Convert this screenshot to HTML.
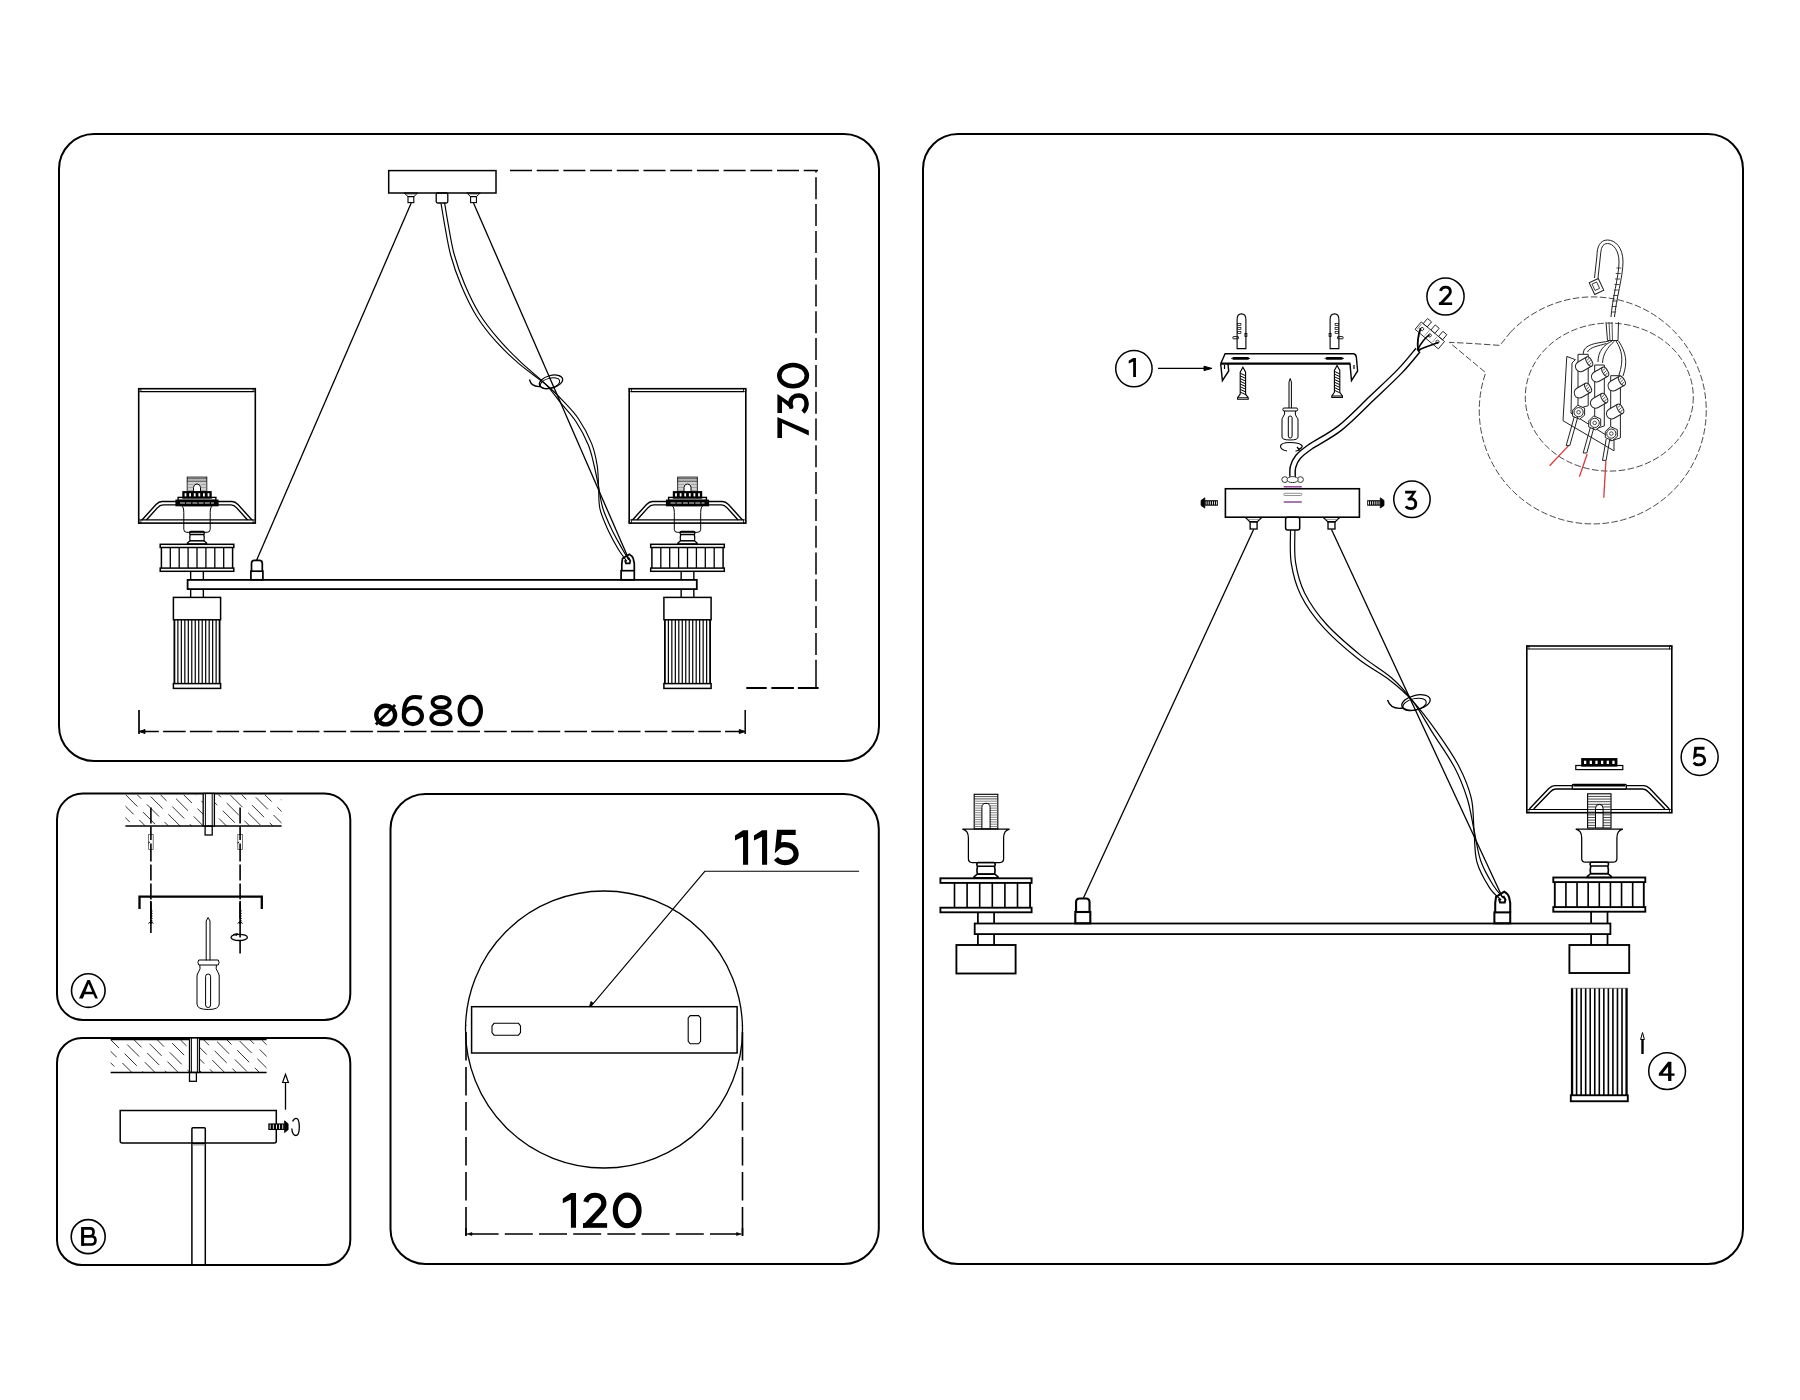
<!DOCTYPE html>
<html><head><meta charset="utf-8"><style>
html,body{margin:0;padding:0;background:#fff;width:1800px;height:1400px;overflow:hidden}
svg{display:block}
text{font-family:"Liberation Sans",sans-serif}
</style></head><body>
<svg width="1800" height="1400" viewBox="0 0 1800 1400" fill="none" stroke="#000" font-family="Liberation Sans, sans-serif">
<rect x="0" y="0" width="1800" height="1400" fill="#fff" stroke="none"/>
<rect x="59" y="134" width="820" height="627" rx="35" stroke-width="2.0" />
<rect x="57" y="793.5" width="293.3" height="226.5" rx="26" stroke-width="2.0" />
<rect x="57" y="1038" width="293.3" height="227" rx="25" stroke-width="2.0" />
<rect x="390.5" y="794" width="488.3" height="470" rx="35" stroke-width="2.0" />
<rect x="923" y="134" width="820" height="1130" rx="35" stroke-width="2.0" />
<rect x="388.7" y="170.6" width="107.3" height="22.4" rx="0" stroke-width="1.5" />
<path d="M404.2,193 H417.6 L413.9,196.6 H407.9 Z" stroke-width="1.0" />
<line x1="405.9" y1="194.6" x2="415.9" y2="194.6" stroke-width="0.6" stroke="#777"/>
<rect x="408" y="196.6" width="5.8" height="6" rx="0" stroke-width="1.1" />
<rect x="436.2" y="193" width="11.6" height="10" rx="1.5" stroke-width="1.3" />
<path d="M466.8,193 H480.2 L476.5,196.6 H470.5 Z" stroke-width="1.0" />
<line x1="468.5" y1="194.6" x2="478.5" y2="194.6" stroke-width="0.6" stroke="#777"/>
<rect x="470.6" y="196.6" width="5.8" height="6" rx="0" stroke-width="1.1" />
<line x1="411.2" y1="203" x2="256.5" y2="560.4" stroke-width="1.3" />
<line x1="473.5" y1="203" x2="628.5" y2="558.5" stroke-width="1.3" />
<path d="M441.02,203.3 C441.64,206.97 443.11,216.63 444.73,225.33 C446.35,234.03 448,245.41 450.76,255.48 C453.53,265.54 457.06,275.63 461.34,285.7 C465.63,295.78 470.66,306.61 476.47,315.95 C482.28,325.28 489.1,333.73 496.22,341.72 C503.34,349.71 510.95,356.79 519.19,363.89 C527.44,370.99 538.48,378.21 545.7,384.3 C552.92,390.39 557.04,394.63 562.53,400.41 C568.01,406.19 573.74,411.8 578.6,419 C583.45,426.2 588.57,435.89 591.67,443.62 C594.76,451.36 596.02,458.17 597.17,465.4 C598.33,472.63 598.14,479.74 598.6,487 C599.06,494.26 598.32,501.69 599.95,508.98 C601.58,516.28 605.29,524.01 608.37,530.76 C611.45,537.51 615.36,544.41 618.45,549.51 C621.53,554.61 625.49,559.38 626.9,561.36" stroke-width="1.15" />
<path d="M444.58,202.7 C445.19,206.36 446.66,216.03 448.27,224.67 C449.88,233.31 451.5,244.59 454.24,254.52 C456.97,264.46 460.44,274.37 464.66,284.3 C468.87,294.22 473.84,304.85 479.53,314.05 C485.22,323.25 491.9,331.47 498.78,339.48 C505.66,347.49 512.99,354.64 520.81,362.11 C528.63,369.58 539.12,377.59 545.7,384.3 C552.28,391.01 555.29,396.27 560.27,402.39 C565.26,408.51 570.93,413.9 575.6,421 C580.28,428.1 585.23,437.48 588.33,444.98 C591.44,452.48 592.52,458.99 594.23,466 C595.94,473 597.16,479.96 598.6,487 C600.04,494.04 600.68,501.18 602.85,508.22 C605.02,515.26 608.51,522.66 611.63,529.24 C614.75,535.82 618.68,542.56 621.55,547.69 C624.43,552.83 627.68,557.99 628.9,560.04" stroke-width="1.15" />
<ellipse cx="551" cy="381.8" rx="12" ry="6.3" stroke-width="1.2" transform="rotate(-15 551 381.8)"/>
<ellipse cx="550" cy="383.2" rx="10" ry="5" stroke-width="1.0" transform="rotate(-15 550 383.2)"/>
<path d="M540,386.5 Q531,387 529.5,379.5" stroke-width="1.3" />
<rect x="138.7" y="388.7" width="116.6" height="134.4" rx="0" stroke-width="1.6" />
<line x1="140.7" y1="391.7" x2="253.3" y2="391.7" stroke-width="1.2" />
<line x1="140.7" y1="519.9" x2="253.3" y2="519.9" stroke-width="1.2" />
<rect x="138.7" y="388.7" width="2.2" height="3" rx="0" stroke-width="0.8" />
<rect x="138.7" y="519.9" width="2.2" height="3.2" rx="0" stroke-width="0.8" />
<rect x="253.1" y="388.7" width="2.2" height="3" rx="0" stroke-width="0.8" />
<rect x="253.1" y="519.9" width="2.2" height="3.2" rx="0" stroke-width="0.8" />
<path d="M142,520 L156,504.5 Q159,501.5 162,501.5 H232 Q235,501.5 238,504.5 L252,520" stroke-width="1.4" />
<path d="M146.42,520 L157.36,507.9 Q160.02,504.9 163.02,504.9 H230.98 Q233.98,504.9 236.64,507.9 L247.58,520" stroke-width="1.4" />
<rect x="187.2" y="477.1" width="19.6" height="14.9" rx="0" stroke-width="0.9" />
<line x1="187.2" y1="478.59" x2="206.8" y2="478.59" stroke-width="0.7" stroke="#222"/>
<line x1="187.2" y1="480.08" x2="206.8" y2="480.08" stroke-width="0.7" stroke="#222"/>
<line x1="187.2" y1="481.57" x2="206.8" y2="481.57" stroke-width="0.7" stroke="#222"/>
<line x1="187.2" y1="483.06" x2="206.8" y2="483.06" stroke-width="0.7" stroke="#777"/>
<line x1="187.2" y1="484.55" x2="193.5" y2="484.55" stroke-width="0.7" stroke="#777"/>
<line x1="200.5" y1="484.55" x2="206.8" y2="484.55" stroke-width="0.7" stroke="#777"/>
<line x1="187.2" y1="486.04" x2="193.5" y2="486.04" stroke-width="0.7" stroke="#777"/>
<line x1="200.5" y1="486.04" x2="206.8" y2="486.04" stroke-width="0.7" stroke="#777"/>
<line x1="187.2" y1="487.53" x2="193.5" y2="487.53" stroke-width="0.7" stroke="#777"/>
<line x1="200.5" y1="487.53" x2="206.8" y2="487.53" stroke-width="0.7" stroke="#777"/>
<line x1="187.2" y1="489.02" x2="193.5" y2="489.02" stroke-width="0.7" stroke="#777"/>
<line x1="200.5" y1="489.02" x2="206.8" y2="489.02" stroke-width="0.7" stroke="#777"/>
<line x1="187.2" y1="490.51" x2="193.5" y2="490.51" stroke-width="0.7" stroke="#777"/>
<line x1="200.5" y1="490.51" x2="206.8" y2="490.51" stroke-width="0.7" stroke="#777"/>
<path d="M193.5,492 V487.5 A3.5,3.5 0 0 1 200.5,487.5 V492" fill="none" stroke-width="1"/>
<path d="M181.5,505.7 Q183.8,506.7 183.8,512.7 V529.3 Q183.8,532.3 186.8,532.3 H207.2 Q210.2,532.3 210.2,529.3 V512.7 Q210.2,506.7 212.5,505.7 Z" stroke-width="1.0" />
<rect x="183.2" y="492" width="27.6" height="5.8" rx="0" stroke-width="1.8" fill="#000"/>
<rect x="184.6" y="493.2" width="1.8" height="3.4" rx="0" stroke-width="0" fill="#fff" stroke="none"/>
<rect x="189.2" y="493.2" width="1.8" height="3.4" rx="0" stroke-width="0" fill="#fff" stroke="none"/>
<rect x="193.8" y="493.2" width="1.8" height="3.4" rx="0" stroke-width="0" fill="#fff" stroke="none"/>
<rect x="198.4" y="493.2" width="1.8" height="3.4" rx="0" stroke-width="0" fill="#fff" stroke="none"/>
<rect x="203" y="493.2" width="1.8" height="3.4" rx="0" stroke-width="0" fill="#fff" stroke="none"/>
<rect x="207.6" y="493.2" width="1.8" height="3.4" rx="0" stroke-width="0" fill="#fff" stroke="none"/>
<rect x="178.1" y="497.4" width="37.8" height="3" rx="0" stroke-width="1.4" />
<rect x="176.2" y="500.4" width="41.6" height="5.1" rx="0" stroke-width="1.6" fill="#000"/>
<line x1="180" y1="503" x2="214" y2="503" stroke-width="0.9" stroke="#fff" stroke-dasharray="5 1.2"/>
<rect x="189.7" y="531.5" width="14.6" height="3" rx="1" stroke-width="1.3" />
<path d="M190.2,534.5 Q189.4,537.5 190,540.8 L187.4,543 V543.8 H206.6 V543 L204,540.8 Q204.6,537.5 203.8,534.5" stroke-width="1.3" />
<line x1="190" y1="540.8" x2="204" y2="540.8" stroke-width="1.5" />
<rect x="160.2" y="544.3" width="73.6" height="3.2" rx="0" stroke-width="1.5" />
<rect x="160.2" y="568.1" width="73.6" height="3.2" rx="0" stroke-width="1.5" />
<line x1="161.4" y1="547.5" x2="161.4" y2="568.1" stroke-width="1.5" />
<line x1="170.3" y1="547.5" x2="170.3" y2="568.1" stroke-width="1.3" />
<line x1="179.2" y1="547.5" x2="179.2" y2="568.1" stroke-width="1.3" />
<line x1="188.1" y1="547.5" x2="188.1" y2="568.1" stroke-width="1.3" />
<line x1="197" y1="547.5" x2="197" y2="568.1" stroke-width="1.3" />
<line x1="205.9" y1="547.5" x2="205.9" y2="568.1" stroke-width="1.3" />
<line x1="214.8" y1="547.5" x2="214.8" y2="568.1" stroke-width="1.3" />
<line x1="223.7" y1="547.5" x2="223.7" y2="568.1" stroke-width="1.3" />
<line x1="232.6" y1="547.5" x2="232.6" y2="568.1" stroke-width="1.5" />
<line x1="190.65" y1="571.3" x2="190.65" y2="579.8" stroke-width="1.4" />
<line x1="203.35" y1="571.3" x2="203.35" y2="579.8" stroke-width="1.4" />
<line x1="190.65" y1="589.1" x2="190.65" y2="597.4" stroke-width="1.4" />
<line x1="203.35" y1="589.1" x2="203.35" y2="597.4" stroke-width="1.4" />
<rect x="173.4" y="597.4" width="47.2" height="22.4" rx="0" stroke-width="1.5" />
<rect x="173.4" y="683.6" width="47.2" height="4.8" rx="0" stroke-width="1.5" />
<line x1="174.4" y1="619.8" x2="174.4" y2="683.6" stroke-width="1.8" />
<line x1="177.88" y1="619.8" x2="177.88" y2="683.6" stroke-width="1.2" />
<line x1="181.35" y1="619.8" x2="181.35" y2="683.6" stroke-width="1.2" />
<line x1="184.83" y1="619.8" x2="184.83" y2="683.6" stroke-width="1.2" />
<line x1="188.31" y1="619.8" x2="188.31" y2="683.6" stroke-width="1.2" />
<line x1="191.78" y1="619.8" x2="191.78" y2="683.6" stroke-width="1.2" />
<line x1="195.26" y1="619.8" x2="195.26" y2="683.6" stroke-width="1.2" />
<line x1="198.74" y1="619.8" x2="198.74" y2="683.6" stroke-width="1.2" />
<line x1="202.22" y1="619.8" x2="202.22" y2="683.6" stroke-width="1.2" />
<line x1="205.69" y1="619.8" x2="205.69" y2="683.6" stroke-width="1.2" />
<line x1="209.17" y1="619.8" x2="209.17" y2="683.6" stroke-width="1.2" />
<line x1="212.65" y1="619.8" x2="212.65" y2="683.6" stroke-width="1.2" />
<line x1="216.12" y1="619.8" x2="216.12" y2="683.6" stroke-width="1.2" />
<line x1="219.6" y1="619.8" x2="219.6" y2="683.6" stroke-width="1.8" />
<rect x="629.2" y="388.7" width="116.6" height="134.4" rx="0" stroke-width="1.6" />
<line x1="631.2" y1="391.7" x2="743.8" y2="391.7" stroke-width="1.2" />
<line x1="631.2" y1="519.9" x2="743.8" y2="519.9" stroke-width="1.2" />
<rect x="629.2" y="388.7" width="2.2" height="3" rx="0" stroke-width="0.8" />
<rect x="629.2" y="519.9" width="2.2" height="3.2" rx="0" stroke-width="0.8" />
<rect x="743.6" y="388.7" width="2.2" height="3" rx="0" stroke-width="0.8" />
<rect x="743.6" y="519.9" width="2.2" height="3.2" rx="0" stroke-width="0.8" />
<path d="M632.5,520 L646.5,504.5 Q649.5,501.5 652.5,501.5 H722.5 Q725.5,501.5 728.5,504.5 L742.5,520" stroke-width="1.4" />
<path d="M636.92,520 L647.86,507.9 Q650.52,504.9 653.52,504.9 H721.48 Q724.48,504.9 727.14,507.9 L738.08,520" stroke-width="1.4" />
<rect x="677.7" y="477.1" width="19.6" height="14.9" rx="0" stroke-width="0.9" />
<line x1="677.7" y1="478.59" x2="697.3" y2="478.59" stroke-width="0.7" stroke="#222"/>
<line x1="677.7" y1="480.08" x2="697.3" y2="480.08" stroke-width="0.7" stroke="#222"/>
<line x1="677.7" y1="481.57" x2="697.3" y2="481.57" stroke-width="0.7" stroke="#222"/>
<line x1="677.7" y1="483.06" x2="697.3" y2="483.06" stroke-width="0.7" stroke="#777"/>
<line x1="677.7" y1="484.55" x2="684" y2="484.55" stroke-width="0.7" stroke="#777"/>
<line x1="691" y1="484.55" x2="697.3" y2="484.55" stroke-width="0.7" stroke="#777"/>
<line x1="677.7" y1="486.04" x2="684" y2="486.04" stroke-width="0.7" stroke="#777"/>
<line x1="691" y1="486.04" x2="697.3" y2="486.04" stroke-width="0.7" stroke="#777"/>
<line x1="677.7" y1="487.53" x2="684" y2="487.53" stroke-width="0.7" stroke="#777"/>
<line x1="691" y1="487.53" x2="697.3" y2="487.53" stroke-width="0.7" stroke="#777"/>
<line x1="677.7" y1="489.02" x2="684" y2="489.02" stroke-width="0.7" stroke="#777"/>
<line x1="691" y1="489.02" x2="697.3" y2="489.02" stroke-width="0.7" stroke="#777"/>
<line x1="677.7" y1="490.51" x2="684" y2="490.51" stroke-width="0.7" stroke="#777"/>
<line x1="691" y1="490.51" x2="697.3" y2="490.51" stroke-width="0.7" stroke="#777"/>
<path d="M684,492 V487.5 A3.5,3.5 0 0 1 691,487.5 V492" fill="none" stroke-width="1"/>
<path d="M672,505.7 Q674.3,506.7 674.3,512.7 V529.3 Q674.3,532.3 677.3,532.3 H697.7 Q700.7,532.3 700.7,529.3 V512.7 Q700.7,506.7 703,505.7 Z" stroke-width="1.0" />
<rect x="673.7" y="492" width="27.6" height="5.8" rx="0" stroke-width="1.8" fill="#000"/>
<rect x="675.1" y="493.2" width="1.8" height="3.4" rx="0" stroke-width="0" fill="#fff" stroke="none"/>
<rect x="679.7" y="493.2" width="1.8" height="3.4" rx="0" stroke-width="0" fill="#fff" stroke="none"/>
<rect x="684.3" y="493.2" width="1.8" height="3.4" rx="0" stroke-width="0" fill="#fff" stroke="none"/>
<rect x="688.9" y="493.2" width="1.8" height="3.4" rx="0" stroke-width="0" fill="#fff" stroke="none"/>
<rect x="693.5" y="493.2" width="1.8" height="3.4" rx="0" stroke-width="0" fill="#fff" stroke="none"/>
<rect x="698.1" y="493.2" width="1.8" height="3.4" rx="0" stroke-width="0" fill="#fff" stroke="none"/>
<rect x="668.6" y="497.4" width="37.8" height="3" rx="0" stroke-width="1.4" />
<rect x="666.7" y="500.4" width="41.6" height="5.1" rx="0" stroke-width="1.6" fill="#000"/>
<line x1="670.5" y1="503" x2="704.5" y2="503" stroke-width="0.9" stroke="#fff" stroke-dasharray="5 1.2"/>
<rect x="680.2" y="531.5" width="14.6" height="3" rx="1" stroke-width="1.3" />
<path d="M680.7,534.5 Q679.9,537.5 680.5,540.8 L677.9,543 V543.8 H697.1 V543 L694.5,540.8 Q695.1,537.5 694.3,534.5" stroke-width="1.3" />
<line x1="680.5" y1="540.8" x2="694.5" y2="540.8" stroke-width="1.5" />
<rect x="650.7" y="544.3" width="73.6" height="3.2" rx="0" stroke-width="1.5" />
<rect x="650.7" y="568.1" width="73.6" height="3.2" rx="0" stroke-width="1.5" />
<line x1="651.9" y1="547.5" x2="651.9" y2="568.1" stroke-width="1.5" />
<line x1="660.8" y1="547.5" x2="660.8" y2="568.1" stroke-width="1.3" />
<line x1="669.7" y1="547.5" x2="669.7" y2="568.1" stroke-width="1.3" />
<line x1="678.6" y1="547.5" x2="678.6" y2="568.1" stroke-width="1.3" />
<line x1="687.5" y1="547.5" x2="687.5" y2="568.1" stroke-width="1.3" />
<line x1="696.4" y1="547.5" x2="696.4" y2="568.1" stroke-width="1.3" />
<line x1="705.3" y1="547.5" x2="705.3" y2="568.1" stroke-width="1.3" />
<line x1="714.2" y1="547.5" x2="714.2" y2="568.1" stroke-width="1.3" />
<line x1="723.1" y1="547.5" x2="723.1" y2="568.1" stroke-width="1.5" />
<line x1="681.15" y1="571.3" x2="681.15" y2="579.8" stroke-width="1.4" />
<line x1="693.85" y1="571.3" x2="693.85" y2="579.8" stroke-width="1.4" />
<line x1="681.15" y1="589.1" x2="681.15" y2="597.4" stroke-width="1.4" />
<line x1="693.85" y1="589.1" x2="693.85" y2="597.4" stroke-width="1.4" />
<rect x="663.9" y="597.4" width="47.2" height="22.4" rx="0" stroke-width="1.5" />
<rect x="663.9" y="683.6" width="47.2" height="4.8" rx="0" stroke-width="1.5" />
<line x1="664.9" y1="619.8" x2="664.9" y2="683.6" stroke-width="1.8" />
<line x1="668.38" y1="619.8" x2="668.38" y2="683.6" stroke-width="1.2" />
<line x1="671.85" y1="619.8" x2="671.85" y2="683.6" stroke-width="1.2" />
<line x1="675.33" y1="619.8" x2="675.33" y2="683.6" stroke-width="1.2" />
<line x1="678.81" y1="619.8" x2="678.81" y2="683.6" stroke-width="1.2" />
<line x1="682.28" y1="619.8" x2="682.28" y2="683.6" stroke-width="1.2" />
<line x1="685.76" y1="619.8" x2="685.76" y2="683.6" stroke-width="1.2" />
<line x1="689.24" y1="619.8" x2="689.24" y2="683.6" stroke-width="1.2" />
<line x1="692.72" y1="619.8" x2="692.72" y2="683.6" stroke-width="1.2" />
<line x1="696.19" y1="619.8" x2="696.19" y2="683.6" stroke-width="1.2" />
<line x1="699.67" y1="619.8" x2="699.67" y2="683.6" stroke-width="1.2" />
<line x1="703.15" y1="619.8" x2="703.15" y2="683.6" stroke-width="1.2" />
<line x1="706.62" y1="619.8" x2="706.62" y2="683.6" stroke-width="1.2" />
<line x1="710.1" y1="619.8" x2="710.1" y2="683.6" stroke-width="1.8" />
<rect x="187.6" y="579.9" width="509.2" height="9.2" rx="0" stroke-width="1.8" />
<path d="M251.5,571.2 V563.4 Q251.5,560.4 254.4,560.4 H259.4 Q262.3,560.4 262.3,563.4 V571.2" stroke-width="1.7" />
<rect x="250.9" y="571.2" width="12" height="8.6" rx="0" stroke-width="1.7" />
<path d="M621.8,570.7 V563.6 L622.5,558.6 L629.3,554.3 Q632.5,556.1 633.3,558.8 L634.3,563.6 V570.7" stroke-width="1.7" />
<rect x="621.1" y="570.7" width="13.2" height="9.1" rx="0" stroke-width="1.7" />
<path d="M624.9,560.3 L625.9,563.3 H629.7 L630.3,560.9 L628.5,557.8" stroke-width="1.7" />
<line x1="510" y1="170.6" x2="818" y2="170.6" stroke-width="1.5" stroke-dasharray="22 4.7"/>
<line x1="816" y1="170.6" x2="816" y2="659.7" stroke-width="1.5" stroke-dasharray="22 4.8" stroke-dashoffset="20.1"/>
<line x1="816" y1="659.7" x2="816" y2="688" stroke-width="1.5" />
<line x1="746.3" y1="688" x2="818.6" y2="688" stroke-width="2.0" stroke-dasharray="20.4 4.7 22.5 3.9 30"/>
<line x1="139" y1="731.5" x2="745.2" y2="731.5" stroke-width="1.5" stroke-dasharray="22.5 4.26" stroke-dashoffset="2.66"/>
<line x1="139" y1="710" x2="139" y2="734" stroke-width="1.7" />
<line x1="745.2" y1="710" x2="745.2" y2="734" stroke-width="1.5" />
<path d="M139.5,731.5 L145,729.5 V733.5 Z" stroke-width="1" fill="#000"/>
<path d="M744.8,731.5 L739.3,729.5 V733.5 Z" stroke-width="1" fill="#000"/>
<g transform="translate(777.4 437.9) rotate(-90)">
<g transform="translate(0.00 0.00) scale(0.3140)"><path d="M0,0 H65.5 V1.5 L23.5,100 H8 L47.4,14.7 H0 Z" fill="#000" stroke="none"/></g>
<g transform="translate(25.00 0.00) scale(0.3140)"><path d="M0,0 H59.5 V1.5 L31,44 L13.4,49.4 V44 L37.4,14.7 H0 Z" fill="#000" stroke="none"/><path d="M15,45.5 C21,42.5 26,41.5 31,41.5 C47,41.5 55.5,54 55.5,68.5 C55.5,84 44,93 30,93 C18,93 9,88 3,81" fill="none" stroke="#000" stroke-width="14.4"/></g>
<g transform="translate(49.50 0.00) scale(0.3140)"><ellipse cx="40.8" cy="50" rx="34" ry="44" fill="none" stroke="#000" stroke-width="14.4"/></g>
</g>
<g transform="translate(374.00 695.00) scale(0.3140)"><ellipse cx="37.3" cy="63.8" rx="30" ry="29.5" fill="none" stroke="#000" stroke-width="13.8"/><path d="M6,94 L67,32" fill="none" stroke="#000" stroke-width="9"/></g>
<g transform="translate(401.80 695.00) scale(0.3130)"><ellipse cx="35.4" cy="67" rx="28.9" ry="26.1" fill="none" stroke="#000" stroke-width="13.2"/><path d="M64,9 C56,6.5 48,6.5 42,6.5 C18,6.5 6.5,28 6.5,64" fill="none" stroke="#000" stroke-width="13.2"/></g>
<g transform="translate(429.00 694.90) scale(0.3140)"><ellipse cx="38.5" cy="23.8" rx="27" ry="17.3" fill="none" stroke="#000" stroke-width="12.6"/><ellipse cx="38" cy="73.7" rx="30.5" ry="20" fill="none" stroke="#000" stroke-width="12.6"/></g>
<g transform="translate(457.50 695.00) scale(0.3130)"><ellipse cx="40.8" cy="50" rx="34" ry="44" fill="none" stroke="#000" stroke-width="13.2"/></g>
<clipPath id="hcA"><rect x="125.4" y="794.5" width="156.2" height="31.5"/></clipPath>
<g stroke="#2a2a2a" stroke-width="0.95" clip-path="url(#hcA)">
<line x1="79" y1="794.5" x2="112" y2="827.5" stroke-dasharray="17 8" stroke-dashoffset="6"/>
<line x1="90.6" y1="794.5" x2="123.6" y2="827.5" stroke-dasharray="17 8" stroke-dashoffset="17"/>
<line x1="102.2" y1="794.5" x2="135.2" y2="827.5" stroke-dasharray="17 8" stroke-dashoffset="3"/>
<line x1="113.8" y1="794.5" x2="146.8" y2="827.5" stroke-dasharray="17 8" stroke-dashoffset="14"/>
<line x1="125.4" y1="794.5" x2="158.4" y2="827.5" stroke-dasharray="17 8" stroke-dashoffset="0"/>
<line x1="137" y1="794.5" x2="170" y2="827.5" stroke-dasharray="17 8" stroke-dashoffset="11"/>
<line x1="148.6" y1="794.5" x2="181.6" y2="827.5" stroke-dasharray="17 8" stroke-dashoffset="22"/>
<line x1="160.2" y1="794.5" x2="193.2" y2="827.5" stroke-dasharray="17 8" stroke-dashoffset="8"/>
<line x1="171.8" y1="794.5" x2="204.8" y2="827.5" stroke-dasharray="17 8" stroke-dashoffset="19"/>
<line x1="183.4" y1="794.5" x2="216.4" y2="827.5" stroke-dasharray="17 8" stroke-dashoffset="5"/>
<line x1="195" y1="794.5" x2="228" y2="827.5" stroke-dasharray="17 8" stroke-dashoffset="16"/>
<line x1="206.6" y1="794.5" x2="239.6" y2="827.5" stroke-dasharray="17 8" stroke-dashoffset="2"/>
<line x1="218.2" y1="794.5" x2="251.2" y2="827.5" stroke-dasharray="17 8" stroke-dashoffset="13"/>
<line x1="229.8" y1="794.5" x2="262.8" y2="827.5" stroke-dasharray="17 8" stroke-dashoffset="24"/>
<line x1="241.4" y1="794.5" x2="274.4" y2="827.5" stroke-dasharray="17 8" stroke-dashoffset="10"/>
<line x1="253" y1="794.5" x2="286" y2="827.5" stroke-dasharray="17 8" stroke-dashoffset="21"/>
<line x1="264.6" y1="794.5" x2="297.6" y2="827.5" stroke-dasharray="17 8" stroke-dashoffset="7"/>
<line x1="276.2" y1="794.5" x2="309.2" y2="827.5" stroke-dasharray="17 8" stroke-dashoffset="18"/>
<line x1="287.8" y1="794.5" x2="320.8" y2="827.5" stroke-dasharray="17 8" stroke-dashoffset="4"/>
<line x1="299.4" y1="794.5" x2="332.4" y2="827.5" stroke-dasharray="17 8" stroke-dashoffset="15"/>
<line x1="311" y1="794.5" x2="344" y2="827.5" stroke-dasharray="17 8" stroke-dashoffset="1"/>
<line x1="322.6" y1="794.5" x2="355.6" y2="827.5" stroke-dasharray="17 8" stroke-dashoffset="12"/>
</g>
<line x1="125.4" y1="826" x2="281.6" y2="826" stroke-width="1.5" />
<rect x="203.2" y="793.5" width="11.2" height="32.5" rx="0" stroke-width="1.3" fill="#fff"/>
<line x1="205.4" y1="793.5" x2="205.4" y2="826" stroke-width="1.0" />
<line x1="212.2" y1="793.5" x2="212.2" y2="826" stroke-width="1.0" />
<rect x="205.1" y="826" width="7.1" height="9" rx="0" stroke-width="1.3" />
<line x1="150.9" y1="807.5" x2="150.9" y2="933" stroke-width="1.6" stroke-dasharray="16 3"/>
<line x1="240.1" y1="807.5" x2="240.1" y2="953.4" stroke-width="1.6" stroke-dasharray="16 3"/>
<rect x="148.6" y="834.6" width="4.6" height="14.8" rx="0" stroke-width="0.8" fill="#fff" stroke="#555"/>
<line x1="150.9" y1="834" x2="150.9" y2="840" stroke-width="1.6" />
<line x1="150.9" y1="843.5" x2="150.9" y2="850" stroke-width="1.6" />
<line x1="148.1" y1="843.3" x2="149.9" y2="842" stroke-width="1.0" />
<line x1="150.9" y1="901" x2="150.9" y2="924" stroke-width="1.7" />
<line x1="150.7" y1="910" x2="152.5" y2="911" stroke-width="1.0" />
<line x1="150.7" y1="912.5" x2="152.5" y2="913.5" stroke-width="1.0" />
<line x1="150.7" y1="915" x2="152.5" y2="916" stroke-width="1.0" />
<line x1="150.7" y1="917.5" x2="152.5" y2="918.5" stroke-width="1.0" />
<line x1="150.7" y1="920" x2="152.5" y2="921" stroke-width="1.0" />
<path d="M148.4,923.5 L150.9,921.5 L153.4,923.5" stroke-width="1.0" />
<rect x="237.8" y="834.6" width="4.6" height="14.8" rx="0" stroke-width="0.8" fill="#fff" stroke="#555"/>
<line x1="240.1" y1="834" x2="240.1" y2="840" stroke-width="1.6" />
<line x1="240.1" y1="843.5" x2="240.1" y2="850" stroke-width="1.6" />
<line x1="237.3" y1="843.3" x2="239.1" y2="842" stroke-width="1.0" />
<line x1="240.1" y1="901" x2="240.1" y2="924" stroke-width="1.7" />
<line x1="239.9" y1="910" x2="241.7" y2="911" stroke-width="1.0" />
<line x1="239.9" y1="912.5" x2="241.7" y2="913.5" stroke-width="1.0" />
<line x1="239.9" y1="915" x2="241.7" y2="916" stroke-width="1.0" />
<line x1="239.9" y1="917.5" x2="241.7" y2="918.5" stroke-width="1.0" />
<line x1="239.9" y1="920" x2="241.7" y2="921" stroke-width="1.0" />
<path d="M237.6,923.5 L240.1,921.5 L242.6,923.5" stroke-width="1.0" />
<path d="M139.5,909 V896.6 H261.8 V909" stroke-width="2.3" />
<ellipse cx="239.2" cy="937.4" rx="8.2" ry="3.1" stroke-width="1.3" />
<path d="M233,934.5 L237.5,933.5 L236,936" stroke-width="1.0" />
<path d="M206.2,960.5 V921 L208.1,917.5 L210,921 V960.5" stroke-width="1.0" />
<path d="M198.8,960 H218.2 Q220,962.5 218.2,965 H198.8 Q197,962.5 198.8,960 Z" stroke-width="1.0" />
<path d="M199.8,965 Q201,969 198.5,972 Q197,974 197,976 V1004 Q197,1009.5 208.2,1009.5 Q219.2,1009.5 219.2,1004 V976 Q219.2,974 217.8,972 Q215.2,969 216.4,965" stroke-width="1.0" />
<rect x="205.6" y="974" width="5" height="33.5" rx="2.5" stroke-width="1"/>
<circle cx="88.3" cy="990.6" r="16.8" stroke-width="1.6" />
<g transform="translate(79.00 980.00) scale(0.1860)"><path d="M0,100 L45.4,0 H58.5 L101.5,100 H87.7 L76.9,76.2 H29.9 L20.8,100 Z M51.5,20 L71,63 H35 Z" fill="#000" stroke="none" fill-rule="evenodd"/></g>
<clipPath id="hcB"><rect x="110.6" y="1039.6" width="156" height="32.8"/></clipPath>
<g stroke="#2a2a2a" stroke-width="0.95" clip-path="url(#hcB)">
<line x1="64.2" y1="1039.6" x2="98.2" y2="1073.6" stroke-dasharray="17 8" stroke-dashoffset="3"/>
<line x1="75.8" y1="1039.6" x2="109.8" y2="1073.6" stroke-dasharray="17 8" stroke-dashoffset="16"/>
<line x1="87.4" y1="1039.6" x2="121.4" y2="1073.6" stroke-dasharray="17 8" stroke-dashoffset="4"/>
<line x1="99" y1="1039.6" x2="133" y2="1073.6" stroke-dasharray="17 8" stroke-dashoffset="17"/>
<line x1="110.6" y1="1039.6" x2="144.6" y2="1073.6" stroke-dasharray="17 8" stroke-dashoffset="5"/>
<line x1="122.2" y1="1039.6" x2="156.2" y2="1073.6" stroke-dasharray="17 8" stroke-dashoffset="18"/>
<line x1="133.8" y1="1039.6" x2="167.8" y2="1073.6" stroke-dasharray="17 8" stroke-dashoffset="6"/>
<line x1="145.4" y1="1039.6" x2="179.4" y2="1073.6" stroke-dasharray="17 8" stroke-dashoffset="19"/>
<line x1="157" y1="1039.6" x2="191" y2="1073.6" stroke-dasharray="17 8" stroke-dashoffset="7"/>
<line x1="168.6" y1="1039.6" x2="202.6" y2="1073.6" stroke-dasharray="17 8" stroke-dashoffset="20"/>
<line x1="180.2" y1="1039.6" x2="214.2" y2="1073.6" stroke-dasharray="17 8" stroke-dashoffset="8"/>
<line x1="191.8" y1="1039.6" x2="225.8" y2="1073.6" stroke-dasharray="17 8" stroke-dashoffset="21"/>
<line x1="203.4" y1="1039.6" x2="237.4" y2="1073.6" stroke-dasharray="17 8" stroke-dashoffset="9"/>
<line x1="215" y1="1039.6" x2="249" y2="1073.6" stroke-dasharray="17 8" stroke-dashoffset="22"/>
<line x1="226.6" y1="1039.6" x2="260.6" y2="1073.6" stroke-dasharray="17 8" stroke-dashoffset="10"/>
<line x1="238.2" y1="1039.6" x2="272.2" y2="1073.6" stroke-dasharray="17 8" stroke-dashoffset="23"/>
<line x1="249.8" y1="1039.6" x2="283.8" y2="1073.6" stroke-dasharray="17 8" stroke-dashoffset="11"/>
<line x1="261.4" y1="1039.6" x2="295.4" y2="1073.6" stroke-dasharray="17 8" stroke-dashoffset="24"/>
<line x1="273" y1="1039.6" x2="307" y2="1073.6" stroke-dasharray="17 8" stroke-dashoffset="12"/>
<line x1="284.6" y1="1039.6" x2="318.6" y2="1073.6" stroke-dasharray="17 8" stroke-dashoffset="0"/>
<line x1="296.2" y1="1039.6" x2="330.2" y2="1073.6" stroke-dasharray="17 8" stroke-dashoffset="13"/>
<line x1="307.8" y1="1039.6" x2="341.8" y2="1073.6" stroke-dasharray="17 8" stroke-dashoffset="1"/>
</g>
<line x1="110.6" y1="1039.6" x2="266.6" y2="1039.6" stroke-width="1.3" />
<line x1="110.6" y1="1072.4" x2="266.6" y2="1072.4" stroke-width="1.5" />
<rect x="189.5" y="1038" width="9.9" height="34.4" rx="0" stroke-width="1.3" fill="#fff"/>
<line x1="191.4" y1="1038" x2="191.4" y2="1072.4" stroke-width="1.0" />
<line x1="197.4" y1="1038" x2="197.4" y2="1072.4" stroke-width="1.0" />
<rect x="189.5" y="1072.4" width="6.9" height="8.9" rx="0" stroke-width="1.3" />
<path d="M120.2,1110.6 H276.3 V1141 Q276.3,1143 274.3,1143 H122.2 Q120.2,1143 120.2,1141 Z" stroke-width="1.5" />
<rect x="191.9" y="1127.7" width="13.4" height="15.8" rx="1" stroke-width="1.5" />
<line x1="191.9" y1="1143.5" x2="191.9" y2="1265" stroke-width="1.5" />
<line x1="205.3" y1="1143.5" x2="205.3" y2="1265" stroke-width="1.5" />
<line x1="191.9" y1="1145" x2="205.3" y2="1145" stroke-width="0.8" stroke="#888"/>
<rect x="268.3" y="1123.4" width="16.3" height="6.6" fill="#000" stroke="none"/>
<rect x="269.73" y="1124.5" width="0.9" height="4.4" fill="#fff" stroke="none"/>
<rect x="272.87" y="1124.5" width="0.9" height="4.4" fill="#fff" stroke="none"/>
<rect x="276" y="1124.5" width="0.9" height="4.4" fill="#fff" stroke="none"/>
<rect x="279.13" y="1124.5" width="0.9" height="4.4" fill="#fff" stroke="none"/>
<rect x="282.27" y="1124.5" width="0.9" height="4.4" fill="#fff" stroke="none"/>
<path d="M284.6,1120.8 L288.1,1123.75 V1129.65 L284.6,1132.6 Z" fill="#000" stroke="#000" stroke-width="0.8"/>
<path d="M292.6,1121.5 Q294,1118.3 296,1118.3 Q299.3,1118.3 299.3,1126.8 Q299.3,1135.5 296,1135.5 Q292.3,1135.5 291.8,1128.5" stroke-width="1.3"/>
<line x1="285.5" y1="1109.7" x2="285.5" y2="1082.5" stroke-width="1.3" />
<path d="M282.6,1082.5 H288.4 L285.5,1074.3 Z" stroke-width="1.2" />
<circle cx="88.2" cy="1236.6" r="17" stroke-width="1.6" />
<g transform="translate(81.10 1227.00) scale(0.1890)"><path d="M0,0 H15.9 V100 H0 Z" fill="#000" stroke="none"/><path d="M8,7.2 H48 C61,7.2 66,16 66,26.5 C66,38 59,49.2 46,49.2 H8" fill="none" stroke="#000" stroke-width="14"/><path d="M8,49.2 H52 C68,49.2 76,59 76,70.5 C76,84 67,92.8 52,92.8 H8" fill="none" stroke="#000" stroke-width="14"/></g>
<circle cx="604" cy="1029.5" r="138.5" stroke-width="1.3" />
<rect x="471.6" y="1006.7" width="265.5" height="46.3" rx="0" stroke-width="1.5" fill="#fff"/>
<path d="M494,1023.3 H518.5 L520.5,1026 V1032.5 L518.5,1035.2 H494 L492,1032.5 V1026 Z" stroke-width="1.1" />
<path d="M690.2,1015.6 L698.6,1015.6 L700.6,1018 V1041.4 L698.6,1043.8 H690.2 L688.2,1041.4 V1018 Z" stroke-width="1.1" />
<path d="M590.6,1006.7 L704.8,871.3 H859.1" stroke-width="1.1" />
<path d="M589.5,1006.5 L591,1001.5 L593.5,1003.5 Z" stroke-width="0.8" fill="#000"/>
<line x1="466" y1="1235.5" x2="466" y2="1025" stroke-width="1.6" stroke-dasharray="28.5 6.5"/>
<line x1="742.5" y1="1235.5" x2="742.5" y2="1025" stroke-width="1.6" stroke-dasharray="28.5 6.5"/>
<line x1="466" y1="1234" x2="742.5" y2="1234" stroke-width="1.7" stroke-dasharray="28 6.2" stroke-dashoffset="29.6"/>
<path d="M467,1234 L472,1232.6 V1235.4 Z" stroke-width="0.6" fill="#000"/>
<path d="M741.5,1234 L736.5,1232.6 V1235.4 Z" stroke-width="0.6" fill="#000"/>
<line x1="466" y1="1228" x2="466" y2="1236" stroke-width="1.6" />
<line x1="742.5" y1="1228" x2="742.5" y2="1236" stroke-width="1.6" />
<g transform="translate(735.00 830.20) scale(0.3450)"><path d="M23.3,0 H38 V100 H23.3 V19 L0,29.5 V15.5 Z" fill="#000" stroke="none"/></g>
<g transform="translate(754.00 830.20) scale(0.3450)"><path d="M23.3,0 H38 V100 H23.3 V19 L0,29.5 V15.5 Z" fill="#000" stroke="none"/></g>
<g transform="translate(774.75 830.20) scale(0.3450)"><path d="M60.7,6.4 H13.5 L9.5,48 C15,43 21,42 28,42 C48,42 62,53 62,69 C62,84 48,94 29,94 C17,94 9,89 3.5,82" fill="none" stroke="#000" stroke-width="15"/></g>
<g transform="translate(562.80 1193.00) scale(0.3480)"><path d="M23.3,0 H38 V100 H23.3 V19 L0,29.5 V15.5 Z" fill="#000" stroke="none"/></g>
<g transform="translate(583.00 1193.00) scale(0.3480)"><path d="M8,26 C13,11 23,6.5 34,6.5 C51,6.5 60,17 60,30 C60,39 55,45 48.5,51.5 L10,92.5" fill="none" stroke="#000" stroke-width="15"/><path d="M0,86.5 H69.3 V100 H0 Z" fill="#000" stroke="none"/><path d="M3,86.5 L14,86.5 L10,100 L0,100 Z" fill="#000" stroke="none"/></g>
<g transform="translate(613.00 1193.00) scale(0.3480)"><ellipse cx="40.8" cy="50" rx="34" ry="44" fill="none" stroke="#000" stroke-width="15"/></g>
<circle cx="1133.9" cy="368.6" r="18.2" stroke-width="1.5" />
<g transform="translate(1128.70 357.90) scale(0.1910)"><path d="M23.3,0 H38 V100 H23.3 V19 L0,29.5 V15.5 Z" fill="#000" stroke="none"/></g>
<line x1="1158" y1="368.4" x2="1205" y2="368.4" stroke-width="1.2" />
<path d="M1204,366.2 L1212,368.4 L1204,370.6 Z" stroke-width="1" fill="#000"/>
<path d="M1220.7,363.7 L1225.1,353.7 H1353.6 Q1356,354 1356.4,357.5 L1357.6,371 L1351.5,380.6 L1350,364" stroke-width="1.4" />
<path d="M1220.7,363.7 L1222.4,380.6 L1228.7,371 L1228,364" stroke-width="1.4" />
<line x1="1220.7" y1="363.7" x2="1350.5" y2="363.7" stroke-width="2.3" />
<line x1="1224.5" y1="365" x2="1224.5" y2="369" stroke-width="1.2" />
<line x1="1354" y1="365" x2="1354" y2="369" stroke-width="1.2" />
<rect x="1232.2" y="357" width="16.9" height="2.8" rx="1.4" fill="#000" stroke="none"/>
<path d="M1232.2,358.4 L1231.2,358.4 M1249.1,358.4 L1250.1,358.4" stroke-width="1.0" />
<rect x="1325.6" y="357" width="17.3" height="2.8" rx="1.4" fill="#000" stroke="none"/>
<path d="M1325.6,358.4 L1324.6,358.4 M1342.9,358.4 L1343.9,358.4" stroke-width="1.0" />
<path d="M1237.1,348.6 V319.5 Q1237.1,313.9 1241.5,313.9 Q1245.9,313.9 1245.9,319.5 V348.6 Z" stroke-width="1.1" fill="#fff"/>
<rect x="1237.7" y="323.5" width="3.2" height="2" rx="0" stroke-width="0.7" />
<rect x="1237.7" y="327.5" width="3.2" height="2" rx="0" stroke-width="0.7" />
<rect x="1237.7" y="331.5" width="3.2" height="2" rx="0" stroke-width="0.7" />
<rect x="1232.9" y="336.6" width="5.6" height="2.2" rx="0.5" stroke-width="0.9" />
<rect x="1244.9" y="333.5" width="2" height="3" rx="0" stroke-width="0.8" />
<path d="M1330.1,348.6 V319.5 Q1330.1,313.9 1334.5,313.9 Q1338.9,313.9 1338.9,319.5 V348.6 Z" stroke-width="1.1" fill="#fff"/>
<rect x="1335.1" y="323.5" width="3.2" height="2" rx="0" stroke-width="0.7" />
<rect x="1335.1" y="327.5" width="3.2" height="2" rx="0" stroke-width="0.7" />
<rect x="1335.1" y="331.5" width="3.2" height="2" rx="0" stroke-width="0.7" />
<rect x="1337.5" y="336.6" width="5.6" height="2.2" rx="0.5" stroke-width="0.9" />
<rect x="1329.1" y="333.5" width="2" height="3" rx="0" stroke-width="0.8" />
<path d="M1242.9,367.2 L1245.6,372.2 V394.2 L1248.2,397.7 V399.2 H1237.6 V397.7 L1240.2,394.2 V372.2 Z" stroke-width="1.1" fill="#fff"/>
<path d="M1240.2,373.2 L1245.6,375.7" stroke-width="1.0" />
<path d="M1240.2,375.9 L1245.6,378.4" stroke-width="1.0" />
<path d="M1240.2,378.6 L1245.6,381.1" stroke-width="1.0" />
<path d="M1240.2,381.3 L1245.6,383.8" stroke-width="1.0" />
<path d="M1240.2,384 L1245.6,386.5" stroke-width="1.0" />
<path d="M1240.2,386.7 L1245.6,389.2" stroke-width="1.0" />
<path d="M1240.2,389.4 L1245.6,391.9" stroke-width="1.0" />
<path d="M1240.2,392.1 L1245.6,394.6" stroke-width="1.0" />
<line x1="1237.6" y1="397.7" x2="1248.2" y2="397.7" stroke-width="0.9" />
<path d="M1337.1,365.4 L1339.8,370.4 V392.4 L1342.4,395.9 V397.4 H1331.8 V395.9 L1334.4,392.4 V370.4 Z" stroke-width="1.1" fill="#fff"/>
<path d="M1334.4,371.4 L1339.8,373.9" stroke-width="1.0" />
<path d="M1334.4,374.1 L1339.8,376.6" stroke-width="1.0" />
<path d="M1334.4,376.8 L1339.8,379.3" stroke-width="1.0" />
<path d="M1334.4,379.5 L1339.8,382" stroke-width="1.0" />
<path d="M1334.4,382.2 L1339.8,384.7" stroke-width="1.0" />
<path d="M1334.4,384.9 L1339.8,387.4" stroke-width="1.0" />
<path d="M1334.4,387.6 L1339.8,390.1" stroke-width="1.0" />
<path d="M1334.4,390.3 L1339.8,392.8" stroke-width="1.0" />
<line x1="1331.8" y1="395.9" x2="1342.4" y2="395.9" stroke-width="0.9" />
<path d="M1289,408 V382 L1290.2,378.5 L1291.4,382 V408" stroke-width="1.0" />
<path d="M1283.5,408 H1297 Q1298.5,409.5 1297,411 H1283.5 Q1282,409.5 1283.5,408 Z" stroke-width="1.0" />
<path d="M1284.5,411 Q1285.5,414 1283,417 Q1282,418 1282,420 V437 Q1282,440 1290.2,440 Q1298,440 1298,437 V420 Q1298,418 1296.5,417 Q1294.5,414 1295.5,411" stroke-width="1.0" />
<rect x="1288.3" y="416" width="3.8" height="22" rx="1.9" stroke-width="1"/>
<path d="M1298,449.5 Q1303,448 1302,445.5 Q1299,442.5 1290,442.5 Q1280.5,442.5 1280.5,446.5 Q1281,450 1287,451" stroke-width="1.2" />
<path d="M1297,447 L1299.5,450 L1295.5,451.2" stroke-width="1.2" />
<path d="M1295.3,477.11 C1295.35,475.54 1294.81,470.76 1295.61,467.7 C1296.4,464.64 1297.4,461.83 1300.06,458.75 C1302.71,455.67 1304.6,453.99 1311.53,449.22 C1318.47,444.45 1331.29,438.33 1341.67,430.12 C1352.06,421.91 1363.81,409.5 1373.86,399.96 C1383.91,390.42 1394.25,380.9 1401.95,372.87 C1409.65,364.83 1417.03,355.28 1420.05,351.76" stroke-width="1.4" />
<path d="M1289.9,476.89 C1289.98,475.13 1289.39,469.9 1290.39,466.3 C1291.4,462.69 1292.93,458.84 1295.94,455.25 C1298.95,451.67 1301.4,449.67 1308.47,444.78 C1315.53,439.88 1328.05,434 1338.33,425.88 C1348.6,417.76 1360.19,405.5 1370.14,396.04 C1380.09,386.58 1390.42,377.1 1398.05,369.13 C1405.69,361.17 1412.97,351.72 1415.95,348.24" stroke-width="1.4" />
<g transform="translate(1429.8 335.4) rotate(40)" stroke="#222">
<rect x="-15.2" y="-4.8" width="30.4" height="9.6" rx="0" stroke-width="0.9" />
<rect x="-12.6" y="-11.5" width="5.2" height="6.7" rx="0" stroke-width="0.9" />
<line x1="-13.6" y1="-3.5" x2="-13.6" y2="3.5" stroke-width="0.7" stroke="#777"/>
<circle cx="-10" cy="0" r="1.6" stroke-width="0.8"/>
<rect x="-2.6" y="-11.5" width="5.2" height="6.7" rx="0" stroke-width="0.9" />
<line x1="-3.6" y1="-3.5" x2="-3.6" y2="3.5" stroke-width="0.7" stroke="#777"/>
<circle cx="0" cy="0" r="1.6" stroke-width="0.8"/>
<rect x="7.4" y="-11.5" width="5.2" height="6.7" rx="0" stroke-width="0.9" />
<line x1="6.4" y1="-3.5" x2="6.4" y2="3.5" stroke-width="0.7" stroke="#777"/>
<circle cx="10" cy="0" r="1.6" stroke-width="0.8"/>
</g>
<path d="M1418,349 C1417,342 1418,336 1420.6,328.1" stroke-width="1.8" />
<path d="M1418,349 C1421,343 1425,338 1429.6,334.6" stroke-width="1.5" />
<path d="M1418,350 C1425,347 1432,345 1438.6,342.3" stroke-width="1.5" />
<line x1="1417.5" y1="348.5" x2="1419.5" y2="351.5" stroke-width="2.5" />
<circle cx="1445.5" cy="296.5" r="18.6" stroke-width="1.5" />
<g transform="translate(1438.90 285.90) scale(0.1910)"><path d="M8,26 C13,11 23,6.5 34,6.5 C51,6.5 60,17 60,30 C60,39 55,45 48.5,51.5 L10,92.5" fill="none" stroke="#000" stroke-width="15"/><path d="M0,86.5 H69.3 V100 H0 Z" fill="#000" stroke="none"/><path d="M3,86.5 L14,86.5 L10,100 L0,100 Z" fill="#000" stroke="none"/></g>
<g stroke-width="0.9" stroke="#333" stroke-dasharray="6.5 2.5">
<path d="M1510.5,332.2 A113.5,113.5 0 1 1 1485.7,372.7 L1449.3,342.3 L1472.2,343.5 L1499.9,345.4 L1510.5,332.2"/>
<ellipse cx="1609.3" cy="397.1" rx="84" ry="74"/>
</g>
<g stroke="#222" stroke-width="1">
<path d="M1566.8,356.4 L1575.4,359.7 L1572,362.9 L1571,413.2 L1614,440 L1614,450.8 L1563,420.7 Z" stroke-width="1.0" fill="#fff"/>
<path d="M1609,341 C1600,343 1588,343 1584,350 L1583,354.3 M1612,341 C1604,345 1598,351 1598,362 M1616,341 C1622,350 1624,360 1619,375" stroke-width="1.0" />
<path d="M1606.5,343.5 C1598,346 1590,347 1587.5,352 M1614.5,341 C1607,348 1603,354 1602.5,363 M1618.5,341 C1626,352 1628,362 1623,376" stroke-width="1.0" />
<path d="M1578,354.3 H1588.2 V405.7 L1578,408.7 Z" stroke-width="1.0" fill="#fff"/>
<g transform="translate(1583.2 365) rotate(-30)">
<path d="M7,-5.2 H-3 A5.2,5.2 0 0 0 -3,5.2 H7" fill="#fff" stroke-width="1"/>
<ellipse cx="7" cy="0" rx="2.6" ry="5.2" fill="#fff" stroke-width="1"/>
<path d="M5.5,-2 L8.5,-3 M5.3,0.5 L8.7,-0.5 M5.5,3 L8.5,2" stroke-width="0.7"/>
</g>
<g transform="translate(1582 391.3) rotate(-30)">
<path d="M7,-5.2 H-3 A5.2,5.2 0 0 0 -3,5.2 H7" fill="#fff" stroke-width="1"/>
<ellipse cx="7" cy="0" rx="2.6" ry="5.2" fill="#fff" stroke-width="1"/>
<path d="M5.5,-2 L8.5,-3 M5.3,0.5 L8.7,-0.5 M5.5,3 L8.5,2" stroke-width="0.7"/>
</g>
<path d="M1572.6,410.2 L1577.6,405.2 L1584.6,408.2 L1584.6,415.2 L1579.6,419.2 L1572.6,416.2 Z" fill="#fff" stroke-width="1"/>
<circle cx="1578.6" cy="412.2" r="4.6" stroke-width="1.0" />
<circle cx="1578.6" cy="412.2" r="1.8" stroke-width="0.8" />
<path d="M1594.7,365 H1604.3 V426 L1594.7,429 Z" stroke-width="1.0" fill="#fff"/>
<g transform="translate(1599.2 375.2) rotate(-30)">
<path d="M7,-5.2 H-3 A5.2,5.2 0 0 0 -3,5.2 H7" fill="#fff" stroke-width="1"/>
<ellipse cx="7" cy="0" rx="2.6" ry="5.2" fill="#fff" stroke-width="1"/>
<path d="M5.5,-2 L8.5,-3 M5.3,0.5 L8.7,-0.5 M5.5,3 L8.5,2" stroke-width="0.7"/>
</g>
<g transform="translate(1598.2 401.5) rotate(-30)">
<path d="M7,-5.2 H-3 A5.2,5.2 0 0 0 -3,5.2 H7" fill="#fff" stroke-width="1"/>
<ellipse cx="7" cy="0" rx="2.6" ry="5.2" fill="#fff" stroke-width="1"/>
<path d="M5.5,-2 L8.5,-3 M5.3,0.5 L8.7,-0.5 M5.5,3 L8.5,2" stroke-width="0.7"/>
</g>
<path d="M1588.7,420.9 L1593.7,415.9 L1600.7,418.9 L1600.7,425.9 L1595.7,429.9 L1588.7,426.9 Z" fill="#fff" stroke-width="1"/>
<circle cx="1594.7" cy="422.9" r="4.6" stroke-width="1.0" />
<circle cx="1594.7" cy="422.9" r="1.8" stroke-width="0.8" />
<path d="M1610.7,375.7 H1620.4 V437.9 L1610.7,440.9 Z" stroke-width="1.0" fill="#fff"/>
<g transform="translate(1615.8 384.3) rotate(-30)">
<path d="M7,-5.2 H-3 A5.2,5.2 0 0 0 -3,5.2 H7" fill="#fff" stroke-width="1"/>
<ellipse cx="7" cy="0" rx="2.6" ry="5.2" fill="#fff" stroke-width="1"/>
<path d="M5.5,-2 L8.5,-3 M5.3,0.5 L8.7,-0.5 M5.5,3 L8.5,2" stroke-width="0.7"/>
</g>
<g transform="translate(1614.2 412.2) rotate(-30)">
<path d="M7,-5.2 H-3 A5.2,5.2 0 0 0 -3,5.2 H7" fill="#fff" stroke-width="1"/>
<ellipse cx="7" cy="0" rx="2.6" ry="5.2" fill="#fff" stroke-width="1"/>
<path d="M5.5,-2 L8.5,-3 M5.3,0.5 L8.7,-0.5 M5.5,3 L8.5,2" stroke-width="0.7"/>
</g>
<path d="M1605.3,431.6 L1610.3,426.6 L1617.3,429.6 L1617.3,436.6 L1612.3,440.6 L1605.3,437.6 Z" fill="#fff" stroke-width="1"/>
<circle cx="1611.3" cy="433.6" r="4.6" stroke-width="1.0" />
<circle cx="1611.3" cy="433.6" r="1.8" stroke-width="0.8" />
<line x1="1574.2" y1="417" x2="1566.2" y2="445.5" stroke-width="1.0" />
<line x1="1577.8" y1="417" x2="1569.8" y2="445.5" stroke-width="1.0" />
<line x1="1566.2" y1="445.5" x2="1569.8" y2="445.5" stroke-width="1.0" />
<line x1="1590.2" y1="428" x2="1583.2" y2="453" stroke-width="1.0" />
<line x1="1593.8" y1="428" x2="1586.8" y2="453" stroke-width="1.0" />
<line x1="1583.2" y1="453" x2="1586.8" y2="453" stroke-width="1.0" />
<line x1="1606.2" y1="439" x2="1602.5" y2="460.4" stroke-width="1.0" />
<line x1="1609.8" y1="439" x2="1606.1" y2="460.4" stroke-width="1.0" />
<line x1="1602.5" y1="460.4" x2="1606.1" y2="460.4" stroke-width="1.0" />
<path d="M1606,322.2 L1607.5,340.5 H1618 L1618.5,322.2" stroke-width="1.0" />
<path d="M1609,322 L1610,341 M1612,322 L1612.5,341" stroke-width="0.8" />
<path d="M1611,317 C1612,300 1619,276 1619,262 C1619,250 1613,243.5 1607.5,243.5 C1602,243.5 1601,249 1600.5,255 L1598,278" stroke-width="1.0" />
<path d="M1614.5,317 C1616,300 1623,276 1623,262 C1623,247 1615,240 1607.5,240 C1600,240 1597,247 1597,255 L1594.5,278" stroke-width="1.0" />
<line x1="1611.1" y1="312" x2="1616.1" y2="312" stroke-width="0.8" />
<line x1="1611.76" y1="306.5" x2="1616.76" y2="306.5" stroke-width="0.8" />
<line x1="1612.42" y1="301" x2="1617.42" y2="301" stroke-width="0.8" />
<line x1="1613.08" y1="295.5" x2="1618.08" y2="295.5" stroke-width="0.8" />
<line x1="1613.74" y1="290" x2="1618.74" y2="290" stroke-width="0.8" />
<line x1="1614.4" y1="284.5" x2="1619.4" y2="284.5" stroke-width="0.8" />
<line x1="1615.06" y1="279" x2="1620.06" y2="279" stroke-width="0.8" />
<line x1="1615.72" y1="273.5" x2="1620.72" y2="273.5" stroke-width="0.8" />
<line x1="1616.38" y1="268" x2="1621.38" y2="268" stroke-width="0.8" />
<g transform="translate(1596.5 286.5) rotate(-25)">
<rect x="-5" y="-6.5" width="10" height="13" rx="0" stroke-width="1.0" />
<rect x="-3" y="-4" width="5" height="7" rx="0" stroke-width="0.8" />
</g>
</g>
<g stroke="#d83a3a" stroke-width="0.85">
<line x1="1549.6" y1="465.8" x2="1568.4" y2="445.9" stroke-width="1.3" />
<line x1="1579.4" y1="476.8" x2="1587.2" y2="454" stroke-width="1.3" />
<line x1="1603.8" y1="497.8" x2="1605.9" y2="460.4" stroke-width="1.3" />
</g>
<rect x="1225.4" y="488.75" width="134" height="28.45" rx="0" stroke-width="1.6" />
<g stroke="#7a2d84" stroke-width="1.6">
<line x1="1283.75" y1="486.8" x2="1301.8" y2="486.8" stroke-width="1.3" />
<line x1="1283.75" y1="502" x2="1301.8" y2="502" stroke-width="1.3" />
</g>
<rect x="1283.75" y="493.3" width="18.05" height="2.2" rx="1" stroke-width="0.8" stroke="#777"/>
<g stroke-width="1.0" fill="#fff" stroke="#333">
<ellipse cx="1284.8" cy="479.6" rx="3" ry="2.9" stroke-width="1.0" />
<ellipse cx="1300.4" cy="479.6" rx="3" ry="2.9" stroke-width="1.0" />
<ellipse cx="1292.6" cy="479.6" rx="5.6" ry="3" stroke-width="1.0" />
</g>
<rect x="1204.8" y="500.2" width="13.1" height="5.5" fill="#000" stroke="none"/>
<rect x="1205.62" y="501.3" width="0.9" height="3.3" fill="#fff" stroke="none"/>
<rect x="1207.73" y="501.3" width="0.9" height="3.3" fill="#fff" stroke="none"/>
<rect x="1209.84" y="501.3" width="0.9" height="3.3" fill="#fff" stroke="none"/>
<rect x="1211.96" y="501.3" width="0.9" height="3.3" fill="#fff" stroke="none"/>
<rect x="1214.07" y="501.3" width="0.9" height="3.3" fill="#fff" stroke="none"/>
<rect x="1216.18" y="501.3" width="0.9" height="3.3" fill="#fff" stroke="none"/>
<path d="M1204.8,497.85 L1201.1,500.4 V505.5 L1204.8,508.05 Z" fill="#000" stroke="#000" stroke-width="0.8"/>
<rect x="1367.2" y="500.2" width="13.1" height="5.5" fill="#000" stroke="none"/>
<rect x="1368.02" y="501.3" width="0.9" height="3.3" fill="#fff" stroke="none"/>
<rect x="1370.13" y="501.3" width="0.9" height="3.3" fill="#fff" stroke="none"/>
<rect x="1372.24" y="501.3" width="0.9" height="3.3" fill="#fff" stroke="none"/>
<rect x="1374.36" y="501.3" width="0.9" height="3.3" fill="#fff" stroke="none"/>
<rect x="1376.47" y="501.3" width="0.9" height="3.3" fill="#fff" stroke="none"/>
<rect x="1378.58" y="501.3" width="0.9" height="3.3" fill="#fff" stroke="none"/>
<path d="M1380.3,497.85 L1384,500.4 V505.5 L1380.3,508.05 Z" fill="#000" stroke="#000" stroke-width="0.8"/>
<circle cx="1411.95" cy="499.3" r="18.2" stroke-width="1.5" />
<g transform="translate(1405.10 490.80) scale(0.1920)"><path d="M0,0 H59.5 V1.5 L31,44 L13.4,49.4 V44 L37.4,14.7 H0 Z" fill="#000" stroke="none"/><path d="M15,45.5 C21,42.5 26,41.5 31,41.5 C47,41.5 55.5,54 55.5,68.5 C55.5,84 44,93 30,93 C18,93 9,88 3,81" fill="none" stroke="#000" stroke-width="15"/></g>
<path d="M1245.56,517.5 H1261.64 L1257.2,521.82 H1250 Z" stroke-width="1.2" />
<line x1="1247.6" y1="519.42" x2="1259.6" y2="519.42" stroke-width="0.72" stroke="#777"/>
<rect x="1250.12" y="521.82" width="6.96" height="7.2" rx="0" stroke-width="1.32" />
<rect x="1285.6" y="517.2" width="14.1" height="12.8" rx="2" stroke-width="1.5" />
<path d="M1323.46,517.5 H1339.54 L1335.1,521.82 H1327.9 Z" stroke-width="1.2" />
<line x1="1325.5" y1="519.42" x2="1337.5" y2="519.42" stroke-width="0.72" stroke="#777"/>
<rect x="1328.02" y="521.82" width="6.96" height="7.2" rx="0" stroke-width="1.32" />
<line x1="1253.6" y1="529.5" x2="1083.2" y2="898.5" stroke-width="1.3" />
<line x1="1331.5" y1="529.5" x2="1502.5" y2="897.5" stroke-width="1.3" />
<path d="M1290.5,530.05 C1290.62,535.56 1289.5,552.29 1291.23,563.14 C1292.95,574 1295.51,584.51 1300.83,595.18 C1306.15,605.85 1313.63,616.57 1323.16,627.17 C1332.7,637.78 1346.9,649.96 1358.02,658.81 C1369.13,667.66 1380.72,673.21 1389.85,680.26 C1398.98,687.31 1405.03,692.58 1412.8,701.1 C1420.57,709.62 1428.81,720.58 1436.46,731.39 C1444.12,742.2 1452.96,754.88 1458.75,765.98 C1464.54,777.08 1468.69,787.32 1471.23,797.97 C1473.77,808.63 1473.06,819.25 1474,829.9 C1474.94,840.55 1474.32,852.27 1476.89,861.89 C1479.46,871.5 1485.39,881.21 1489.43,887.56 C1493.48,893.91 1499.21,897.92 1501.17,899.99" stroke-width="1.2" />
<path d="M1294.9,529.95 C1295.01,535.37 1293.93,551.91 1295.57,562.46 C1297.22,573 1299.62,582.92 1304.77,593.22 C1309.91,603.51 1317.1,613.87 1326.44,624.23 C1335.77,634.59 1349.9,646.44 1360.78,655.39 C1371.67,664.34 1383.08,670.32 1391.75,677.94 C1400.42,685.56 1405.9,691.82 1412.8,701.1 C1419.7,710.38 1426.13,722.46 1433.14,733.61 C1440.15,744.76 1449.14,757.12 1454.85,768.02 C1460.56,778.92 1464.18,788.71 1467.37,799.03 C1470.56,809.34 1471.78,819.62 1474,829.9 C1476.22,840.18 1477.52,851.49 1480.71,860.71 C1483.91,869.94 1489.38,879.02 1493.17,885.24 C1496.95,891.45 1501.72,895.88 1503.43,898.01" stroke-width="1.2" />
<ellipse cx="1416" cy="702.5" rx="14.5" ry="7.2" stroke-width="1.3" transform="rotate(-14 1416 702.5)"/>
<ellipse cx="1414.5" cy="704.5" rx="12" ry="5.8" stroke-width="1.0" transform="rotate(-14 1414.5 704.5)"/>
<path d="M1403,708 Q1391,710 1387.5,700" stroke-width="1.4" />
<rect x="974.2" y="794.3" width="23.6" height="34.5" rx="0" stroke-width="1.125" />
<line x1="974.2" y1="796.6" x2="997.8" y2="796.6" stroke-width="0.8" stroke="#222"/>
<line x1="974.2" y1="798.9" x2="997.8" y2="798.9" stroke-width="0.8" stroke="#222"/>
<line x1="974.2" y1="801.2" x2="997.8" y2="801.2" stroke-width="0.8" stroke="#666"/>
<line x1="974.2" y1="803.5" x2="997.8" y2="803.5" stroke-width="0.8" stroke="#666"/>
<line x1="974.2" y1="805.8" x2="981.9" y2="805.8" stroke-width="0.8" stroke="#666"/>
<line x1="990.1" y1="805.8" x2="997.8" y2="805.8" stroke-width="0.8" stroke="#666"/>
<line x1="974.2" y1="808.1" x2="981.9" y2="808.1" stroke-width="0.8" stroke="#666"/>
<line x1="990.1" y1="808.1" x2="997.8" y2="808.1" stroke-width="0.8" stroke="#666"/>
<line x1="974.2" y1="810.4" x2="981.9" y2="810.4" stroke-width="0.8" stroke="#666"/>
<line x1="990.1" y1="810.4" x2="997.8" y2="810.4" stroke-width="0.8" stroke="#666"/>
<line x1="974.2" y1="812.7" x2="981.9" y2="812.7" stroke-width="0.8" stroke="#666"/>
<line x1="990.1" y1="812.7" x2="997.8" y2="812.7" stroke-width="0.8" stroke="#666"/>
<line x1="974.2" y1="815" x2="981.9" y2="815" stroke-width="0.8" stroke="#666"/>
<line x1="990.1" y1="815" x2="997.8" y2="815" stroke-width="0.8" stroke="#666"/>
<line x1="974.2" y1="817.3" x2="981.9" y2="817.3" stroke-width="0.8" stroke="#666"/>
<line x1="990.1" y1="817.3" x2="997.8" y2="817.3" stroke-width="0.8" stroke="#666"/>
<line x1="974.2" y1="819.6" x2="981.9" y2="819.6" stroke-width="0.8" stroke="#666"/>
<line x1="990.1" y1="819.6" x2="997.8" y2="819.6" stroke-width="0.8" stroke="#666"/>
<line x1="974.2" y1="821.9" x2="981.9" y2="821.9" stroke-width="0.8" stroke="#666"/>
<line x1="990.1" y1="821.9" x2="997.8" y2="821.9" stroke-width="0.8" stroke="#666"/>
<line x1="974.2" y1="824.2" x2="981.9" y2="824.2" stroke-width="0.8" stroke="#666"/>
<line x1="990.1" y1="824.2" x2="997.8" y2="824.2" stroke-width="0.8" stroke="#666"/>
<line x1="974.2" y1="826.5" x2="981.9" y2="826.5" stroke-width="0.8" stroke="#666"/>
<line x1="990.1" y1="826.5" x2="997.8" y2="826.5" stroke-width="0.8" stroke="#666"/>
<path d="M981.9,828.8 V807.4 A4.1,4.1 0 0 1 990.1,807.4 V828.8" fill="none" stroke-width="1"/>
<path d="M962.4,829.2 Q968.4,830.45 968.4,837.95 V858.75 Q968.4,862.5 972.15,862.5 H999.85 Q1003.6,862.5 1003.6,858.75 V837.95 Q1003.6,830.45 1009.6,829.2 Z" stroke-width="1.25" />
<rect x="976.88" y="862.5" width="18.25" height="3.75" rx="1.25" stroke-width="1.625" />
<path d="M977.5,866.25 Q976.5,870 977.25,874.05 L974,876.8 V877.8 H998 V876.8 L994.75,874.05 Q995.5,870 994.5,866.25" stroke-width="1.625" />
<line x1="977.25" y1="874.05" x2="994.75" y2="874.05" stroke-width="1.875" />
<rect x="940.4" y="878.3" width="91.2" height="4.6" rx="0" stroke-width="1.875" />
<rect x="940.4" y="907.7" width="91.2" height="4.6" rx="0" stroke-width="1.875" />
<line x1="954.5" y1="882.9" x2="954.5" y2="907.7" stroke-width="1.625" />
<line x1="967.1" y1="882.9" x2="967.1" y2="907.7" stroke-width="1.625" />
<line x1="979.7" y1="882.9" x2="979.7" y2="907.7" stroke-width="1.625" />
<line x1="992.3" y1="882.9" x2="992.3" y2="907.7" stroke-width="1.625" />
<line x1="1004.9" y1="882.9" x2="1004.9" y2="907.7" stroke-width="1.625" />
<line x1="1017.5" y1="882.9" x2="1017.5" y2="907.7" stroke-width="1.625" />
<line x1="1030.1" y1="882.9" x2="1030.1" y2="907.7" stroke-width="1.875" />
<line x1="977.9" y1="912.3" x2="977.9" y2="923.3" stroke-width="1.75" />
<line x1="994.1" y1="912.3" x2="994.1" y2="923.3" stroke-width="1.75" />
<line x1="977.9" y1="934.1" x2="977.9" y2="945" stroke-width="1.75" />
<line x1="994.1" y1="934.1" x2="994.1" y2="945" stroke-width="1.75" />
<rect x="956.4" y="945" width="59.2" height="28.5" rx="0" stroke-width="1.875" />
<rect x="1526.8" y="646" width="145" height="166.7" rx="0" stroke-width="1.6" />
<line x1="1528.8" y1="649" x2="1669.8" y2="649" stroke-width="1.2" />
<line x1="1528.8" y1="809.5" x2="1669.8" y2="809.5" stroke-width="1.2" />
<rect x="1526.8" y="646" width="2.2" height="3" rx="0" stroke-width="0.8" />
<rect x="1526.8" y="809.5" width="2.2" height="3.2" rx="0" stroke-width="0.8" />
<rect x="1669.6" y="646" width="2.2" height="3" rx="0" stroke-width="0.8" />
<rect x="1669.6" y="809.5" width="2.2" height="3.2" rx="0" stroke-width="0.8" />
<path d="M1529.3,809 L1548.8,788.6 Q1551.8,785.6 1554.8,785.6 H1643.8 Q1646.8,785.6 1649.8,788.6 L1669.3,809" stroke-width="1.4" />
<path d="M1533.72,809 L1550.16,792 Q1552.82,789 1555.82,789 H1642.78 Q1645.78,789 1648.44,792 L1664.88,809" stroke-width="1.4" />
<rect x="1572.3" y="784.3" width="54" height="4.7" rx="1" stroke-width="1.3" fill="#fff"/>
<line x1="1573.3" y1="785.6" x2="1625.3" y2="785.6" stroke-width="1.6" />
<rect x="1582.3" y="759.2" width="34" height="6.3" rx="0" stroke-width="2.25" fill="#000"/>
<rect x="1584.01" y="760.7" width="2.25" height="3.3" rx="0" stroke-width="0" fill="#fff" stroke="none"/>
<rect x="1589.67" y="760.7" width="2.25" height="3.3" rx="0" stroke-width="0" fill="#fff" stroke="none"/>
<rect x="1595.34" y="760.7" width="2.25" height="3.3" rx="0" stroke-width="0" fill="#fff" stroke="none"/>
<rect x="1601.01" y="760.7" width="2.25" height="3.3" rx="0" stroke-width="0" fill="#fff" stroke="none"/>
<rect x="1606.67" y="760.7" width="2.25" height="3.3" rx="0" stroke-width="0" fill="#fff" stroke="none"/>
<rect x="1612.34" y="760.7" width="2.25" height="3.3" rx="0" stroke-width="0" fill="#fff" stroke="none"/>
<rect x="1575.8" y="765.5" width="47" height="4.1" rx="0" stroke-width="1.2" />
<rect x="1587.6" y="793.8" width="23.4" height="34.2" rx="0" stroke-width="1.125" />
<line x1="1587.6" y1="796.43" x2="1611" y2="796.43" stroke-width="0.9" stroke="#333"/>
<line x1="1587.6" y1="799.06" x2="1611" y2="799.06" stroke-width="0.9" stroke="#333"/>
<line x1="1587.6" y1="801.69" x2="1611" y2="801.69" stroke-width="0.9" stroke="#333"/>
<line x1="1587.6" y1="804.32" x2="1611" y2="804.32" stroke-width="0.9" stroke="#333"/>
<line x1="1587.6" y1="806.95" x2="1595.5" y2="806.95" stroke-width="0.9" stroke="#333"/>
<line x1="1603.1" y1="806.95" x2="1611" y2="806.95" stroke-width="0.9" stroke="#333"/>
<line x1="1587.6" y1="809.58" x2="1595.5" y2="809.58" stroke-width="0.9" stroke="#333"/>
<line x1="1603.1" y1="809.58" x2="1611" y2="809.58" stroke-width="0.9" stroke="#333"/>
<line x1="1587.6" y1="812.22" x2="1595.5" y2="812.22" stroke-width="0.9" stroke="#333"/>
<line x1="1603.1" y1="812.22" x2="1611" y2="812.22" stroke-width="0.9" stroke="#333"/>
<line x1="1587.6" y1="814.85" x2="1595.5" y2="814.85" stroke-width="0.9" stroke="#333"/>
<line x1="1603.1" y1="814.85" x2="1611" y2="814.85" stroke-width="0.9" stroke="#333"/>
<line x1="1587.6" y1="817.48" x2="1595.5" y2="817.48" stroke-width="0.9" stroke="#333"/>
<line x1="1603.1" y1="817.48" x2="1611" y2="817.48" stroke-width="0.9" stroke="#333"/>
<line x1="1587.6" y1="820.11" x2="1595.5" y2="820.11" stroke-width="0.9" stroke="#333"/>
<line x1="1603.1" y1="820.11" x2="1611" y2="820.11" stroke-width="0.9" stroke="#333"/>
<line x1="1587.6" y1="822.74" x2="1595.5" y2="822.74" stroke-width="0.9" stroke="#333"/>
<line x1="1603.1" y1="822.74" x2="1611" y2="822.74" stroke-width="0.9" stroke="#333"/>
<line x1="1587.6" y1="825.37" x2="1595.5" y2="825.37" stroke-width="0.9" stroke="#333"/>
<line x1="1603.1" y1="825.37" x2="1611" y2="825.37" stroke-width="0.9" stroke="#333"/>
<path d="M1595.5,828 V808.2 A3.8,3.8 0 0 1 1603.1,808.2 V828" fill="none" stroke-width="1"/>
<path d="M1575.7,829.2 Q1581.7,830.45 1581.7,837.95 V858.45 Q1581.7,862.2 1585.45,862.2 H1613.15 Q1616.9,862.2 1616.9,858.45 V837.95 Q1616.9,830.45 1622.9,829.2 Z" stroke-width="1.25" />
<rect x="1590.17" y="862.2" width="18.25" height="3.75" rx="1.25" stroke-width="1.625" />
<path d="M1590.8,865.95 Q1589.8,869.7 1590.55,873.75 L1587.3,876.5 V877.5 H1611.3 V876.5 L1608.05,873.75 Q1608.8,869.7 1607.8,865.95" stroke-width="1.625" />
<line x1="1590.55" y1="873.75" x2="1608.05" y2="873.75" stroke-width="1.875" />
<rect x="1553.3" y="877.5" width="92" height="4.6" rx="0" stroke-width="1.875" />
<rect x="1553.3" y="907.1" width="92" height="4.6" rx="0" stroke-width="1.875" />
<line x1="1554.8" y1="882.1" x2="1554.8" y2="907.1" stroke-width="1.875" />
<line x1="1565.92" y1="882.1" x2="1565.92" y2="907.1" stroke-width="1.625" />
<line x1="1577.05" y1="882.1" x2="1577.05" y2="907.1" stroke-width="1.625" />
<line x1="1588.17" y1="882.1" x2="1588.17" y2="907.1" stroke-width="1.625" />
<line x1="1599.3" y1="882.1" x2="1599.3" y2="907.1" stroke-width="1.625" />
<line x1="1610.42" y1="882.1" x2="1610.42" y2="907.1" stroke-width="1.625" />
<line x1="1621.55" y1="882.1" x2="1621.55" y2="907.1" stroke-width="1.625" />
<line x1="1632.67" y1="882.1" x2="1632.67" y2="907.1" stroke-width="1.625" />
<line x1="1643.8" y1="882.1" x2="1643.8" y2="907.1" stroke-width="1.875" />
<line x1="1591.1" y1="911.7" x2="1591.1" y2="923.3" stroke-width="1.75" />
<line x1="1607.5" y1="911.7" x2="1607.5" y2="923.3" stroke-width="1.75" />
<line x1="1591.1" y1="934.1" x2="1591.1" y2="945" stroke-width="1.75" />
<line x1="1607.5" y1="934.1" x2="1607.5" y2="945" stroke-width="1.75" />
<rect x="1569.4" y="945" width="59.8" height="28" rx="0" stroke-width="1.875" />
<rect x="1570.8" y="1095.25" width="57" height="6" rx="0" stroke-width="1.875" />
<line x1="1572.05" y1="988" x2="1572.05" y2="1095.25" stroke-width="2.3" />
<line x1="1576.59" y1="988" x2="1576.59" y2="1095.25" stroke-width="1.6" />
<line x1="1581.13" y1="988" x2="1581.13" y2="1095.25" stroke-width="1.6" />
<line x1="1585.67" y1="988" x2="1585.67" y2="1095.25" stroke-width="1.6" />
<line x1="1590.22" y1="988" x2="1590.22" y2="1095.25" stroke-width="1.6" />
<line x1="1594.76" y1="988" x2="1594.76" y2="1095.25" stroke-width="1.6" />
<line x1="1599.3" y1="988" x2="1599.3" y2="1095.25" stroke-width="1.6" />
<line x1="1603.84" y1="988" x2="1603.84" y2="1095.25" stroke-width="1.6" />
<line x1="1608.38" y1="988" x2="1608.38" y2="1095.25" stroke-width="1.6" />
<line x1="1612.92" y1="988" x2="1612.92" y2="1095.25" stroke-width="1.6" />
<line x1="1617.47" y1="988" x2="1617.47" y2="1095.25" stroke-width="1.6" />
<line x1="1622.01" y1="988" x2="1622.01" y2="1095.25" stroke-width="1.6" />
<line x1="1626.55" y1="988" x2="1626.55" y2="1095.25" stroke-width="2.3" />
<line x1="1570.8" y1="988.3" x2="1627.8" y2="988.3" stroke-width="0.8" stroke="#555"/>
<rect x="974.7" y="923.5" width="635.7" height="10.6" rx="0" stroke-width="1.8" />
<path d="M1076.05,912 V902.25 Q1076.05,898.5 1079.67,898.5 H1085.92 Q1089.55,898.5 1089.55,902.25 V912" stroke-width="2.125" />
<rect x="1075.3" y="912" width="15" height="11.3" rx="0" stroke-width="2.125" />
<path d="M1495.22,912.38 V902.86 L1496.06,896.86 L1504.22,891.7 Q1508.06,893.86 1509.02,897.1 L1510.22,902.86 V912.38" stroke-width="2.04" />
<rect x="1494.38" y="912.38" width="15.84" height="10.92" rx="0" stroke-width="2.04" />
<path d="M1498.94,898.9 L1500.14,902.5 H1504.7 L1505.42,899.62 L1503.26,895.9" stroke-width="2.04" />
<circle cx="1699.65" cy="757" r="18.5" stroke-width="1.5" />
<g transform="translate(1693.00 747.00) scale(0.1900)"><path d="M60.7,6.4 H13.5 L9.5,48 C15,43 21,42 28,42 C48,42 62,53 62,69 C62,84 48,94 29,94 C17,94 9,89 3.5,82" fill="none" stroke="#000" stroke-width="15"/></g>
<circle cx="1667.1" cy="1071.1" r="18.4" stroke-width="1.5" />
<g transform="translate(1658.80 1061.70) scale(0.1920)"><path d="M48.4,0 H65.6 V61.5 H82 V73.8 H65.6 V100 H48.4 V73.8 H0 V61.5 Z M48.4,25 V61.5 H20 Z" fill="#000" stroke="none" fill-rule="evenodd"/></g>
<line x1="1642.5" y1="1054" x2="1642.5" y2="1039.5" stroke-width="2.4" />
<path d="M1640.6,1039.5 H1644.4 L1642.5,1032.5 Z" stroke-width="1.0" />
</svg>
</body></html>
